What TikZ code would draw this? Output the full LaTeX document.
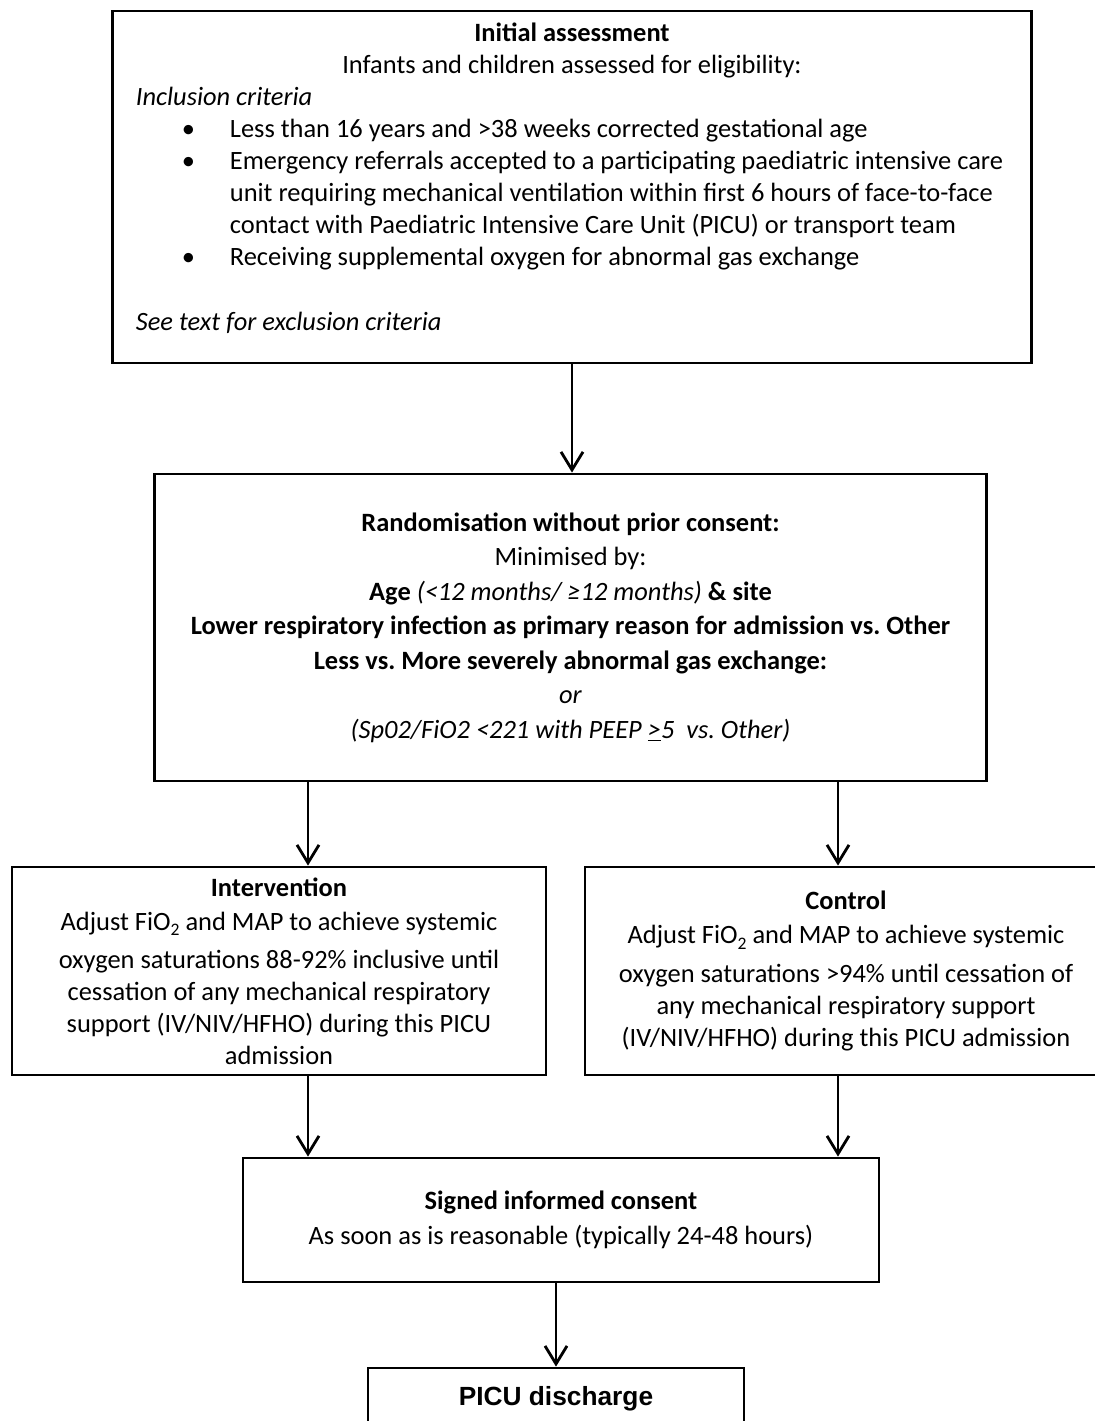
\documentclass[tikz,border=0pt]{standalone}
\usepackage{fontspec}
\setmainfont{Carlito}
\newfontfamily\arialfont{Liberation Sans}
\usetikzlibrary{positioning, calc, arrows.meta}
\frenchspacing

% one line of the criteria list: bullet column, then the text
\newcommand\critline[2]{\par\noindent\makebox[2.35cm][l]{\hspace{1.15cm}#1}\mbox{#2}}
% lowered subscript two
\newcommand\subtwo{\raisebox{-0.4ex}{\fontsize{12.5}{12.5}\selectfont 2}}

\begin{document}
\begin{tikzpicture}[x=0.025cm, y=-0.025cm,
  box/.style={draw, line width=2pt, inner sep=0pt, align=center,
    font=\fontsize{18.8}{24.5}\selectfont},
  arrow/.style={line width=2pt, -{Straight Barb[length=0.45cm, width=0.55cm]}}]

  \useasboundingbox (0,0) rectangle (1095,1421);

  % ==========================================
  % Initial assessment
  % ==========================================
  \node[box, align=flush left, text width=21.8cm, inner xsep=0.575cm,
    minimum height=8.8cm, font=\fontsize{18.8}{22.8}\selectfont] (assess) at (572,187) {%
    {\centering\textbf{Initial assessment}\par
     Infants and children assessed for eligibility:\par}
    \noindent\textit{Inclusion criteria}
    \critline{\textbullet}{Less than 16 years and >38 weeks corrected gestational age}
    \critline{\textbullet}{Emergency referrals accepted to a participating paediatric intensive care}
    \critline{}{unit requiring mechanical ventilation within first 6 hours of face-to-face}
    \critline{}{contact with Paediatric Intensive Care Unit (PICU) or transport team}
    \critline{\textbullet}{Receiving supplemental oxygen for abnormal gas exchange}
    \par\noindent\mbox{}
    \par\noindent\textit{See text for exclusion criteria}
    \par\kern0.45cm\nointerlineskip\hbox{}};

  % ==========================================
  % Randomisation
  % ==========================================
  \node[box, minimum width=20.775cm, minimum height=7.675cm] (rand) at (570.5,627.5) {%
    \textbf{Randomisation without prior consent:}\\
    Minimised by:\\
    \textbf{Age} \textit{(<12 months/ ≥12 months)} \textbf{\& site}\\
    \textbf{Lower respiratory infection as primary reason for admission vs. Other}\\
    \textbf{Less vs. More severely abnormal gas exchange:}\\
    \textit{or}\\
    \textit{(Sp02/FiO2 <221 with PEEP \underline{>}5\ \ vs. Other)}};

  % ==========================================
  % Two arms
  % ==========================================
  \node[box, minimum width=13.35cm, minimum height=5.2cm,
    font=\fontsize{18.8}{22.8}\selectfont] (intv) at (279,971) {%
    \textbf{Intervention}\\[0.05cm]
    Adjust FiO\subtwo{} and MAP to achieve systemic\\[0.15cm]
    oxygen saturations 88-92\% inclusive until\\
    cessation of any mechanical respiratory\\
    support (IV/NIV/HFHO) during this PICU\\
    admission};
  \node[box, minimum width=13.05cm, minimum height=5.2cm,
    font=\fontsize{18.8}{22.8}\selectfont] (ctrl) at (846,971) {%
    \textbf{Control}\\[0.05cm]
    Adjust FiO\subtwo{} and MAP to achieve systemic\\[0.15cm]
    oxygen saturations >94\% until cessation of\\
    any mechanical respiratory support\\
    (IV/NIV/HFHO) during this PICU admission};

  % ==========================================
  % Consent and discharge
  % ==========================================
  \node[box, minimum width=15.9cm, minimum height=3.1cm] (consent) at (561,1220) {%
    \textbf{Signed informed consent}\\
    As soon as is reasonable (typically 24-48 hours)};
  \node[box, minimum width=9.4cm, minimum height=1.55cm,
    font=\fontsize{18.7}{20}\arialfont\bfseries] (picu) at (556,1399) {PICU discharge};

  % arrow columns
  \coordinate (lcol) at (308,0);
  \coordinate (rcol) at (838,0);

  \draw[arrow] (assess.south) -- (assess.south |- rand.north);
  \draw[arrow] (lcol |- rand.south) -- (lcol |- intv.north);
  \draw[arrow] (rcol |- rand.south) -- (rcol |- ctrl.north);
  \draw[arrow] (lcol |- intv.south) -- (lcol |- consent.north);
  \draw[arrow] (rcol |- ctrl.south) -- (rcol |- consent.north);
  \draw[arrow] (picu.north |- consent.south) -- (picu.north);

\end{tikzpicture}
\end{document}
